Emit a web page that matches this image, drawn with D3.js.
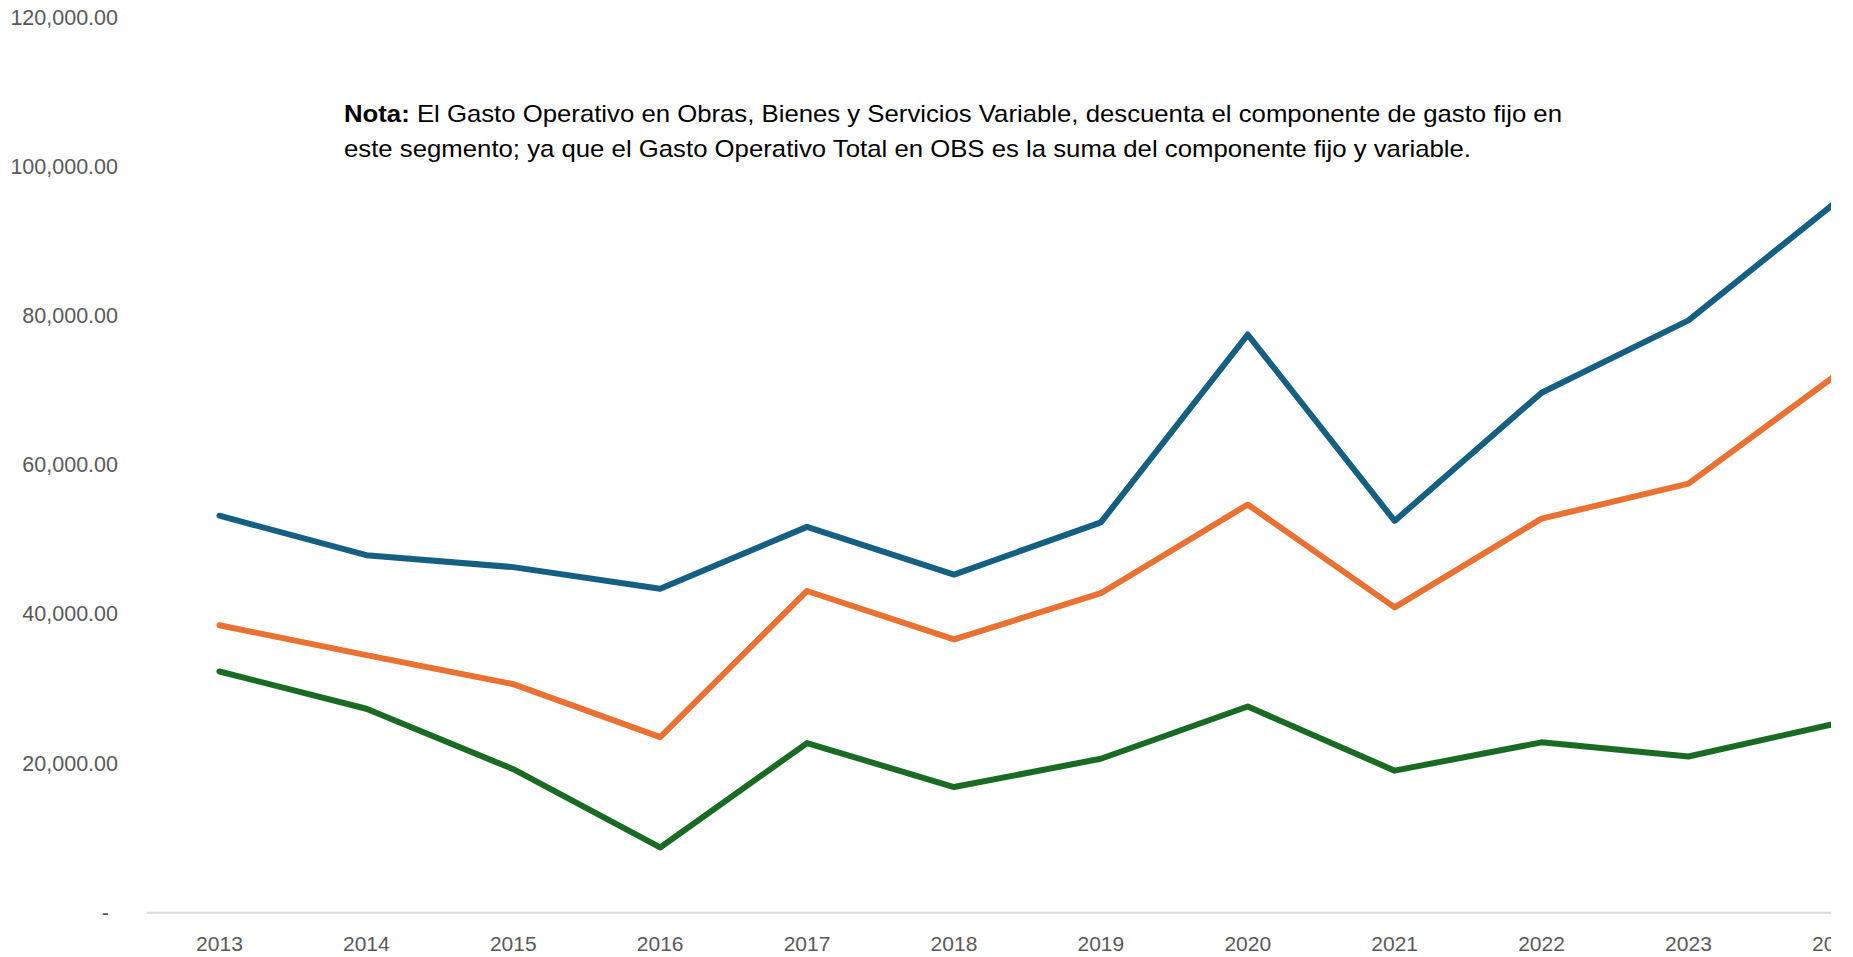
<!DOCTYPE html>
<html>
<head>
<meta charset="utf-8">
<script src="https://cdn.jsdelivr.net/npm/d3@7"></script>
<style>
  body { margin: 0; background: #fff; }
  svg { display: block; font-family: "Liberation Sans", Arial, sans-serif; }
</style>
</head>
<body>
<div id="chart"></div>
<script>
const WIDTH = 1853, HEIGHT = 957;

// data
const years = ["2013","2014","2015","2016","2017","2018","2019","2020","2021","2022","2023","2024"];
const gastoTotal = [53200, 47900, 46300, 43400, 51700, 45300, 52300, 77500, 52500, 69700, 79400, 95200];
const gastoVariable = [38500, 34500, 30600, 23500, 43100, 36600, 42800, 54700, 40900, 52800, 57500, 72000];
const gastoSinFijo = [32300, 27300, 19200, 8700, 22700, 16800, 20600, 27600, 19000, 22800, 20900, 25300];
const yTicks = [0, 20000, 40000, 60000, 80000, 100000, 120000];

const series = [
  { name: "total", values: gastoTotal, color: "#156082" },
  { name: "variable", values: gastoVariable, color: "#E97132" },
  { name: "sinfijo", values: gastoSinFijo, color: "#196B24" }
];

const svg = d3.select("#chart")
  .append("svg")
  .attr("width", WIDTH)
  .attr("height", HEIGHT);

// picture is cut at the right edge
svg.append("defs").append("clipPath")
  .attr("id", "cut")
  .append("rect")
  .attr("x", 0).attr("y", 0)
  .attr("width", 1831).attr("height", HEIGHT);

const g = svg.append("g").attr("clip-path", "url(#cut)");

const x = d3.scaleBand()
  .domain(years)
  .range([146, 146 + 12 * 146.9])
  .paddingInner(0).paddingOuter(0);

const y = d3.scaleLinear()
  .domain([0, 120000])
  .range([912.3, 17.7]);

const xc = d => x(d) + x.bandwidth() / 2;

// Y axis labels (no axis line)
const yAxis = g.append("g")
  .attr("transform", "translate(118,0)")
  .call(d3.axisLeft(y).tickValues(yTicks).tickSize(0).tickPadding(0)
    .tickFormat(d => d === 0 ? "-" : d3.format(",.2f")(d)));
yAxis.select(".domain").remove();
yAxis.selectAll("text")
  .attr("dx", d => d === 0 ? -9 : 0)
  .style("font-size", "21.5px")
  .style("fill", "#595959")
  .style("font-family", "'Liberation Sans', Arial, sans-serif");

// X axis
const xAxis = g.append("g")
  .attr("transform", `translate(0,${y(0)})`)
  .call(d3.axisBottom(x).tickSize(0).tickPadding(24));
xAxis.select(".domain")
  .attr("stroke", "#d9d9d9")
  .attr("stroke-width", 2);
xAxis.selectAll("text")
  .style("font-size", "21px")
  .style("fill", "#595959")
  .style("font-family", "'Liberation Sans', Arial, sans-serif");

// Lines
const line = d3.line()
  .x((d, i) => xc(years[i]))
  .y(d => y(d));

g.selectAll("path.serie")
  .data(series)
  .join("path")
  .attr("class", "serie")
  .attr("d", d => line(d.values))
  .attr("fill", "none")
  .attr("stroke", d => d.color)
  .attr("stroke-width", 6)
  .attr("stroke-linejoin", "round")
  .attr("stroke-linecap", "round");

// Note
const nota = g.append("text")
  .attr("x", 344)
  .attr("y", 122)
  .attr("textLength", 1218)
  .attr("lengthAdjust", "spacingAndGlyphs")
  .style("font-size", "24px")
  .style("fill", "#000");
nota.append("tspan").style("font-weight", "bold").text("Nota:");
nota.append("tspan").text(" El Gasto Operativo en Obras, Bienes y Servicios Variable, descuenta el componente de gasto fijo en");

g.append("text")
  .attr("x", 344)
  .attr("y", 157)
  .attr("textLength", 1127)
  .attr("lengthAdjust", "spacingAndGlyphs")
  .style("font-size", "24px")
  .style("fill", "#000")
  .text("este segmento; ya que el Gasto Operativo Total en OBS es la suma del componente fijo y variable.");
</script>
</body>
</html>
